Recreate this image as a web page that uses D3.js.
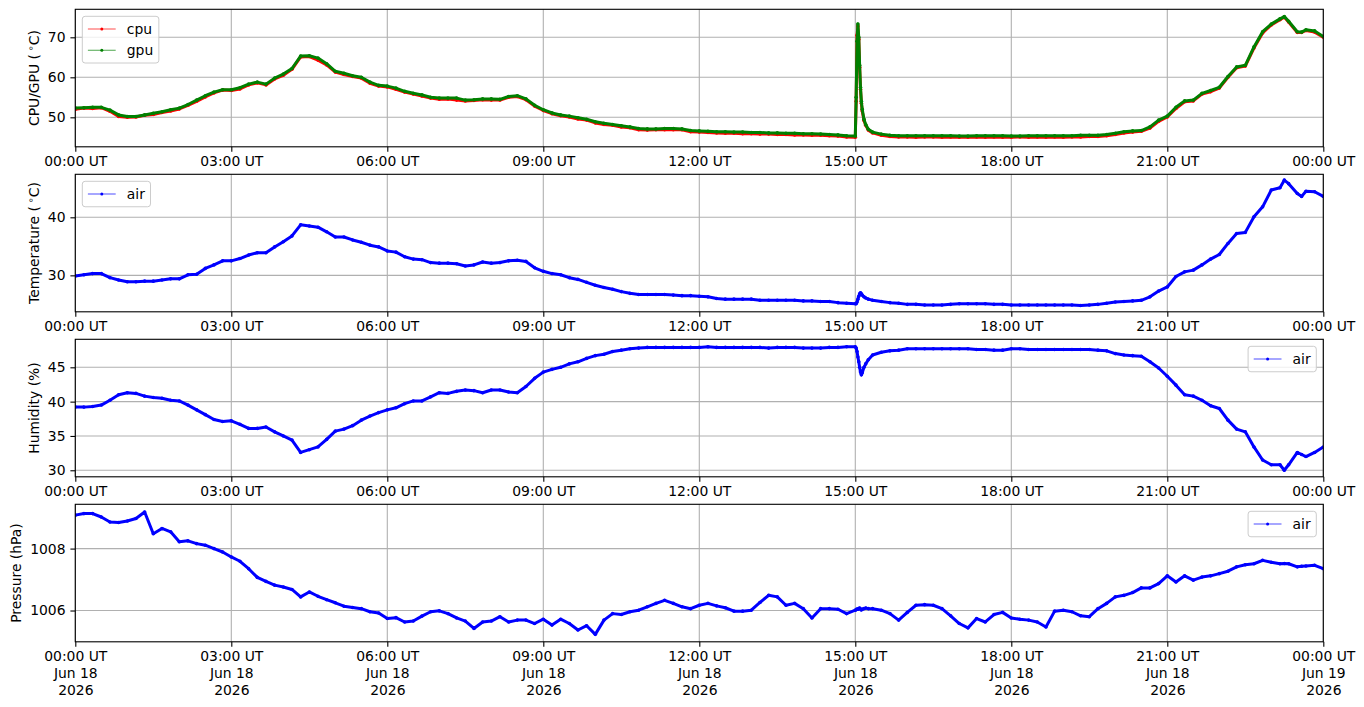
<!DOCTYPE html>
<html>
<head>
<meta charset="utf-8">
<script src="https://cdn.jsdelivr.net/npm/d3@7"></script>
<style>
  html, body { margin: 0; padding: 0; background: #fff; }
  svg { display: block; font-family: "DejaVu Sans", sans-serif; }
</style>
</head>
<body>
<svg id="chart" width="1364" height="707"></svg>
<script>
// sample times, minutes after 2026-06-18 00:00 UT
const minutes = [
  0, 10, 20, 30, 40, 50,
  60, 70, 80, 90, 100, 110,
  120, 130, 140, 150, 160, 170,
  180, 190, 200, 210, 220, 230,
  240, 250, 260, 270, 280, 290,
  300, 310, 320, 330, 340, 350,
  360, 370, 380, 390, 400, 410,
  420, 430, 440, 450, 460, 470,
  480, 490, 500, 510, 520, 530,
  540, 550, 560, 570, 580, 590,
  600, 610, 620, 630, 640, 650,
  660, 670, 680, 690, 700, 710,
  720, 730, 740, 750, 760, 770,
  780, 790, 800, 810, 820, 830,
  840, 850, 860, 870, 880, 890,
  900,
  901, 902, 903, 904, 905, 906, 907, 908, 910, 912, 915, 920,
  930, 940, 950, 960, 970, 980,
  990, 1000, 1010, 1020, 1030, 1040,
  1050, 1060, 1070, 1080, 1090, 1100,
  1110, 1120, 1130, 1140, 1150, 1160,
  1170, 1180, 1190, 1200, 1210, 1220,
  1230, 1240, 1250, 1260, 1270, 1280,
  1290, 1300, 1310, 1320, 1330, 1340,
  1350, 1360, 1370, 1380, 1390,
  1395, 1400, 1410, 1415, 1420, 1430, 1440
];

const cpu = [
  52.0, 52.3, 52.2, 52.4, 51.5, 50.2,
  50.0, 50.1, 50.5, 50.7, 51.2, 51.6,
  52.1, 53.0, 54.0, 55.1, 56.1, 56.8,
  56.7, 57.1, 58.1, 58.6, 58.1, 59.6,
  60.5, 62.0, 65.1, 65.2, 64.3, 63.1,
  61.3, 60.7, 60.2, 59.8, 58.5, 57.8,
  57.6, 57.0, 56.3, 55.8, 55.3, 54.8,
  54.5, 54.6, 54.3, 54.1, 54.2, 54.4,
  54.3, 54.3, 55.0, 55.2, 54.4, 52.8,
  51.7, 50.9, 50.4, 50.1, 49.6, 49.3,
  48.6, 48.2, 48.0, 47.6, 47.4, 46.9,
  46.8, 46.9, 46.9, 46.9, 46.9, 46.4,
  46.3, 46.2, 46.1, 46.0, 46.0, 45.9,
  45.9, 45.8, 45.8, 45.7, 45.7, 45.6,
  45.6, 45.5, 45.5, 45.4, 45.3, 45.1,
  45.0,
  54.0, 70.5, 72.8, 69.5, 62.5, 57.0, 53.5, 51.6, 49.2, 48.0, 46.8, 46.1,
  45.5, 45.2, 45.1, 45.1, 45.0, 45.1,
  45.1, 45.0, 45.1, 45.0, 45.0, 45.1,
  45.0, 45.1, 45.0, 45.0, 45.1, 45.0,
  45.1, 45.0, 45.1, 45.0, 45.1, 45.1,
  45.2, 45.2, 45.4, 45.7, 46.1, 46.3,
  46.5, 47.3, 49.0, 50.1, 52.2, 53.9,
  54.1, 55.8, 56.4, 57.3, 60.0, 62.4,
  62.8, 67.3, 71.1, 73.1, 74.4,
  75.0, 73.8, 71.2, 71.2, 71.7, 71.3, 70.0
];

const gpu = [
  52.3, 52.4, 52.5, 52.5, 51.8, 50.6,
  50.2, 50.2, 50.6, 51.0, 51.4, 51.9,
  52.3, 53.2, 54.3, 55.4, 56.3, 56.9,
  56.9, 57.4, 58.3, 58.8, 58.3, 59.8,
  60.8, 62.2, 65.3, 65.4, 64.8, 63.4,
  61.5, 61.0, 60.4, 60.0, 58.8, 58.0,
  57.8, 57.3, 56.5, 56.0, 55.6, 55.0,
  54.8, 54.8, 54.8, 54.3, 54.4, 54.6,
  54.6, 54.5, 55.2, 55.4, 54.6, 53.0,
  51.9, 51.1, 50.6, 50.3, 49.9, 49.5,
  48.9, 48.5, 48.2, 47.9, 47.6, 47.2,
  47.1, 47.1, 47.2, 47.2, 47.1, 46.7,
  46.6, 46.5, 46.4, 46.4, 46.3, 46.3,
  46.2, 46.2, 46.1, 46.1, 46.0, 46.0,
  45.9, 45.9, 45.8, 45.7, 45.6, 45.4,
  45.3,
  55.0, 69.0, 73.3, 70.0, 63.0, 57.5, 54.0, 52.0, 49.5, 48.2, 47.0, 46.3,
  45.8, 45.5, 45.4, 45.4, 45.4, 45.4,
  45.4, 45.4, 45.4, 45.3, 45.3, 45.4,
  45.4, 45.4, 45.4, 45.3, 45.3, 45.4,
  45.4, 45.4, 45.4, 45.4, 45.4, 45.5,
  45.5, 45.5, 45.7, 46.0, 46.4, 46.6,
  46.7, 47.6, 49.3, 50.3, 52.5, 54.1,
  54.3, 56.0, 56.7, 57.5, 60.2, 62.6,
  63.0, 67.6, 71.4, 73.3, 74.6,
  75.2, 74.0, 71.4, 71.3, 71.9, 71.6, 70.2
];

const airTemp = [
  29.9, 30.1, 30.3, 30.3, 29.6, 29.2,
  28.9, 28.9, 29.0, 29.0, 29.2, 29.4,
  29.4, 30.1, 30.2, 31.2, 31.8, 32.5,
  32.5, 32.9, 33.5, 33.9, 33.9, 34.9,
  35.8, 36.8, 38.7, 38.5, 38.3, 37.5,
  36.6, 36.6, 36.1, 35.7, 35.2, 34.9,
  34.2, 34.0, 33.2, 32.8, 32.7, 32.2,
  32.1, 32.1, 32.0, 31.6, 31.8, 32.3,
  32.1, 32.2, 32.5, 32.6, 32.4, 31.3,
  30.7, 30.3, 30.1, 29.6, 29.3, 28.8,
  28.3, 27.9, 27.6, 27.2, 26.9, 26.7,
  26.7, 26.7, 26.7, 26.6, 26.5, 26.5,
  26.4, 26.3, 26.0, 25.9, 25.9, 25.9,
  25.9, 25.7, 25.7, 25.7, 25.7, 25.7,
  25.6, 25.6, 25.5, 25.5, 25.3, 25.2,
  25.1,
  25.1, 25.4, 25.9, 26.4, 26.8, 27.0, 26.8, 26.6, 26.3, 26.1, 25.9, 25.7,
  25.5, 25.3, 25.2, 25.0, 25.0, 24.9,
  24.9, 24.9, 25.0, 25.1, 25.1, 25.1,
  25.1, 25.0, 25.0, 24.9, 24.9, 24.9,
  24.9, 24.9, 24.9, 24.9, 24.9, 24.8,
  24.9, 25.0, 25.2, 25.4, 25.5, 25.6,
  25.7, 26.3, 27.3, 28.0, 29.8, 30.6,
  30.9, 31.8, 32.8, 33.6, 35.5, 37.2,
  37.4, 40.1, 41.8, 44.7, 45.1,
  46.4, 45.8, 44.1, 43.6, 44.5, 44.4, 43.6
];

const airHumidity = [
  39.2, 39.2, 39.3, 39.5, 40.2, 41.0,
  41.3, 41.2, 40.8, 40.6, 40.5, 40.2,
  40.1, 39.5, 38.8, 38.1, 37.4, 37.1,
  37.2, 36.7, 36.1, 36.1, 36.3, 35.6,
  35.0, 34.4, 32.6, 33.0, 33.4, 34.5,
  35.7, 36.0, 36.5, 37.3, 37.9, 38.4,
  38.8, 39.1, 39.7, 40.1, 40.1, 40.7,
  41.3, 41.2, 41.5, 41.7, 41.6, 41.3,
  41.7, 41.7, 41.4, 41.3, 42.2, 43.4,
  44.3, 44.7, 45.0, 45.5, 45.8, 46.3,
  46.7, 46.9, 47.3, 47.5, 47.7, 47.8,
  47.9, 47.9, 47.9, 47.9, 47.9, 47.9,
  47.9, 48.0, 47.9, 47.9, 47.9, 47.9,
  47.9, 47.9, 47.8, 47.9, 47.9, 47.9,
  47.8, 47.8, 47.8, 47.9, 47.9, 48.0,
  48.0,
  47.8, 47.3, 46.5, 45.8, 45.0, 44.3, 43.9, 44.2, 45.0, 45.5, 46.1, 46.8,
  47.2, 47.4, 47.5, 47.7, 47.7, 47.7,
  47.7, 47.7, 47.7, 47.7, 47.7, 47.6,
  47.6, 47.5, 47.5, 47.7, 47.7, 47.6,
  47.6, 47.6, 47.6, 47.6, 47.6, 47.6,
  47.6, 47.5, 47.4, 47.0, 46.8, 46.7,
  46.6, 45.8, 44.9, 43.7, 42.4, 41.0,
  40.8, 40.2, 39.4, 39.0, 37.3, 36.0,
  35.6, 33.4, 31.5, 30.8, 30.8,
  30.0, 30.8, 32.6, 32.3, 32.0, 32.6, 33.4
];

const airPressure = [
  1009.08, 1009.13, 1009.13, 1009.02, 1008.86, 1008.84,
  1008.89, 1008.97, 1009.18, 1008.48, 1008.65, 1008.54,
  1008.22, 1008.25, 1008.16, 1008.11, 1008.00, 1007.89,
  1007.73, 1007.59, 1007.35, 1007.07, 1006.94, 1006.82,
  1006.76, 1006.68, 1006.44, 1006.60, 1006.46, 1006.35,
  1006.25, 1006.14, 1006.10, 1006.06, 1005.96, 1005.92,
  1005.74, 1005.77, 1005.63, 1005.66, 1005.82, 1005.96,
  1005.99, 1005.90, 1005.76, 1005.66, 1005.42, 1005.63,
  1005.66, 1005.80, 1005.63, 1005.69, 1005.69, 1005.58,
  1005.72, 1005.53, 1005.72, 1005.58, 1005.37, 1005.51,
  1005.23, 1005.69, 1005.90, 1005.87, 1005.96, 1006.01,
  1006.12, 1006.23, 1006.33, 1006.23, 1006.12, 1006.06,
  1006.17, 1006.23, 1006.15, 1006.09, 1005.98, 1005.98,
  1006.01, 1006.26, 1006.49, 1006.44, 1006.17, 1006.23,
  1006.06, 1005.76, 1006.06, 1006.06, 1006.04, 1005.90,
  1006.01,
  1006.03, 1006.05, 1006.04, 1006.06, 1006.08, 1006.05, 1006.02, 1006.04, 1006.06, 1006.08, 1006.06, 1006.06,
  1006.01, 1005.90, 1005.69, 1005.94, 1006.17, 1006.19,
  1006.17, 1006.06, 1005.83, 1005.58, 1005.44, 1005.74,
  1005.63, 1005.87, 1005.94, 1005.76, 1005.72, 1005.69,
  1005.63, 1005.47, 1005.98, 1006.01, 1005.96, 1005.83,
  1005.80, 1006.06, 1006.23, 1006.44, 1006.49, 1006.58,
  1006.73, 1006.73, 1006.87, 1007.12, 1006.92, 1007.12,
  1006.98, 1007.08, 1007.12, 1007.19, 1007.27, 1007.41,
  1007.48, 1007.51, 1007.62, 1007.56, 1007.51,
  1007.52, 1007.51, 1007.41, 1007.43, 1007.44, 1007.46, 1007.35
];

const cpuTicks = [50, 60, 70];
const tempTicks = [30, 40];
const humidityTicks = [30, 35, 40, 45];
const pressureTicks = [1006, 1008];

const base = Date.UTC(2026, 5, 18);
const times = minutes.map(m => new Date(base + m * 60000));
const start = new Date(base);
const end = new Date(base + 1440 * 60000);

const panels = [
  { label: 'CPU/GPU (°C)', ticks: cpuTicks, domain: [42.63, 77.0], legend: 'left',
    series: [{ name: 'cpu', values: cpu, color: 'red' }, { name: 'gpu', values: gpu, color: 'green' }] },
  { label: 'Temperature (°C)', ticks: tempTicks, domain: [23.72, 47.41], legend: 'left',
    series: [{ name: 'air', values: airTemp, color: 'blue' }] },
  { label: 'Humidity (%)', ticks: humidityTicks, domain: [29.05, 49.08], legend: 'right',
    series: [{ name: 'air', values: airHumidity, color: 'blue' }] },
  { label: 'Pressure (hPa)', ticks: pressureTicks, domain: [1004.99, 1009.43], legend: 'right',
    series: [{ name: 'air', values: airPressure, color: 'blue' }] }
];

const svg = d3.select('#chart');
const left = 75.3, right = 1323.3;
const panelTop = [9.3, 174.3, 339.3, 504.3];
const panelH = 137.5;
const fs = 13.9;
const lw = 1.1;

const x = d3.scaleUtc().domain([start, end]).range([left, right]);
const tickTimes = d3.utcHour.every(3).range(start, new Date(+end + 1));
const fmtTime = d3.utcFormat('%H:%M UT');
const fmtDay = d3.utcFormat('%b %d');
const fmtYear = d3.utcFormat('%Y');

panels.forEach((p, i) => {
  const top = panelTop[i], bottom = top + panelH;
  const y = d3.scaleLinear().domain(p.domain).range([bottom, top]);
  const g = svg.append('g');

  const clipId = 'clip' + i;
  svg.append('clipPath').attr('id', clipId).append('rect')
    .attr('x', left).attr('y', top).attr('width', right - left).attr('height', panelH);

  // grid
  g.append('g').selectAll('line').data(tickTimes).join('line')
    .attr('x1', d => x(d)).attr('x2', d => x(d))
    .attr('y1', top).attr('y2', bottom)
    .attr('stroke', '#b0b0b0').attr('stroke-width', lw);
  g.append('g').selectAll('line').data(p.ticks).join('line')
    .attr('x1', left).attr('x2', right)
    .attr('y1', d => y(d)).attr('y2', d => y(d))
    .attr('stroke', '#b0b0b0').attr('stroke-width', lw);

  // data
  const line = d3.line().x((d, j) => x(times[j])).y(d => y(d));
  p.series.forEach(s => {
    const sg = g.append('g').attr('clip-path', `url(#${clipId})`);
    sg.append('path').datum(s.values)
      .attr('d', line)
      .attr('fill', 'none')
      .attr('stroke', s.color)
      .attr('stroke-width', 3)
      .attr('stroke-linejoin', 'round');
    sg.selectAll('circle').data(s.values).join('circle')
      .attr('cx', (d, j) => x(times[j]))
      .attr('cy', d => y(d))
      .attr('r', 1.8)
      .attr('fill', s.color);
  });

  // frame
  g.append('rect')
    .attr('x', left).attr('y', top).attr('width', right - left).attr('height', panelH)
    .attr('fill', 'none').attr('stroke', '#000').attr('stroke-width', lw);

  // x axis
  const xg = g.append('g')
    .attr('transform', `translate(0,${bottom})`)
    .call(d3.axisBottom(x).tickValues(tickTimes).tickSize(4.9).tickPadding(4.9).tickFormat(fmtTime));
  xg.select('.domain').remove();
  xg.attr('font-family', null).attr('font-size', fs);
  xg.selectAll('.tick line').attr('stroke-width', lw);
  xg.selectAll('.tick text').attr('fill', '#000');
  if (i === panels.length - 1) {
    xg.selectAll('.tick text').each(function (d) {
      const t = d3.select(this).attr('dy', null).text(null);
      [fmtTime(d), fmtDay(d), fmtYear(d)].forEach((str, k) => {
        t.append('tspan').attr('x', 0).attr('dy', k ? '1.2em' : '0.71em').text(str);
      });
    });
  }

  // y axis
  const yg = g.append('g')
    .attr('transform', `translate(${left},0)`)
    .call(d3.axisLeft(y).tickValues(p.ticks).tickSize(4.9).tickPadding(4.9).tickFormat(d3.format('d')));
  yg.select('.domain').remove();
  yg.attr('font-family', null).attr('font-size', fs);
  yg.selectAll('.tick line').attr('stroke-width', lw);
  yg.selectAll('.tick text').attr('fill', '#000');

  let maxW = 0;
  yg.selectAll('.tick text').each(function () { maxW = Math.max(maxW, this.getComputedTextLength()); });
  const labelX = left - 4.9 - 4.9 - maxW - 5.6 - 3.3;
  const lab = g.append('text')
    .attr('transform', `translate(${labelX},${(top + bottom) / 2}) rotate(-90)`)
    .attr('text-anchor', 'middle')
    .attr('font-size', fs)
    .attr('fill', '#000');
  const parts = p.label.split('°');
  if (parts.length === 2) {
    lab.append('tspan').text(parts[0] + '\u2009');
    lab.append('tspan').attr('dy', -5).attr('font-size', 9.7).text('\u2218');
    lab.append('tspan').attr('dy', 5).text(parts[1]);
  } else {
    lab.text(p.label);
  }

  // legend
  const lg = g.append('g');
  const rowH = 21.25;
  const labels = p.series.map(s => lg.append('text')
    .attr('font-size', fs).attr('fill', '#000').text(s.name));
  const textW = d3.max(labels, t => t.node().getComputedTextLength());
  const boxW = 5.6 + 27.8 + 11.1 + textW + 5.6;
  const boxH = 5.6 * 2 + p.series.length * 14.25 + (p.series.length - 1) * 7;
  const bx = p.legend === 'left' ? left + 7 : right - 7 - boxW;
  const by = top + 7;
  lg.insert('rect', ':first-child')
    .attr('x', bx).attr('y', by).attr('width', boxW).attr('height', boxH)
    .attr('rx', 2.8)
    .attr('fill', '#fff').attr('fill-opacity', 0.8)
    .attr('stroke', '#cccccc').attr('stroke-width', 1);
  p.series.forEach((s, k) => {
    const cy = by + 5.6 + 7.1 + k * rowH;
    lg.append('line')
      .attr('x1', bx + 5.6).attr('x2', bx + 5.6 + 27.8)
      .attr('y1', cy).attr('y2', cy)
      .attr('stroke', s.color).attr('stroke-width', 0.7);
    lg.append('circle')
      .attr('cx', bx + 5.6 + 13.9).attr('cy', cy).attr('r', 1.5)
      .attr('fill', s.color);
    labels[k].attr('x', bx + 5.6 + 27.8 + 11.1).attr('y', cy).attr('dy', '0.35em');
  });
});
</script>
</body>
</html>
